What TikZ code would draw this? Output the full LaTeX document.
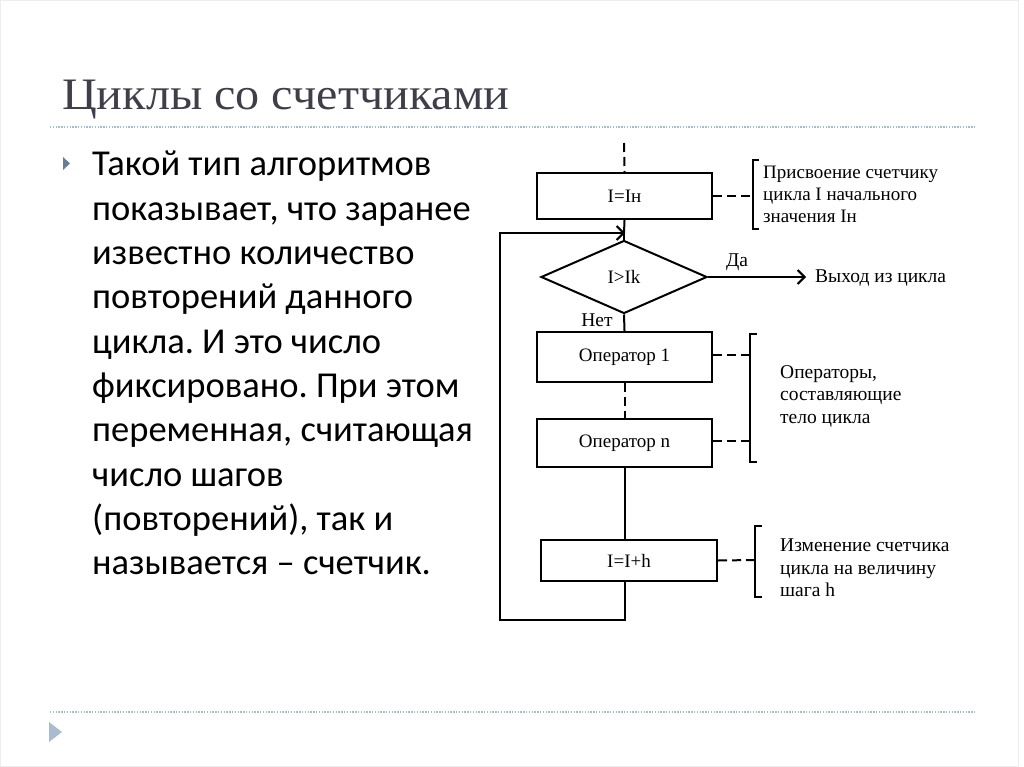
\documentclass[tikz,border=0pt]{standalone}
\usepackage{fontspec}
\setmainfont{Liberation Serif}
\newfontfamily\bodyfont{Carlito}
\newfontfamily\titlefont[FakeStretch=1.07]{Liberation Serif}
\usetikzlibrary{arrows.meta,shapes.geometric}
\definecolor{titlegray}{HTML}{3F3F4A}
\definecolor{dotblue}{HTML}{A9BCCF}
\definecolor{bulletblue}{HTML}{6A7C98}
\frenchspacing
\tikzset{
  box/.style={draw, line width=2pt, minimum width=175pt, minimum height=46pt, inner sep=0pt, font=\fontsize{19}{19}\selectfont},
  dia/.style={draw, line width=2pt, diamond, minimum width=166pt, minimum height=73pt, inner sep=0pt, aspect=2.27, font=\fontsize{19}{19}\selectfont},
  flow/.style={line width=2pt},
  dashln/.style={line width=2pt, dash pattern=on 9pt off 5pt},
  brk/.style={line width=2.2pt},
  note/.style={anchor=west, align=left, font=\fontsize{19.5}{22.5}\selectfont, inner sep=0pt},
  lbl/.style={font=\fontsize{19.5}{19}\selectfont, inner sep=0pt},
  dotline/.style={dotblue, line width=1.3pt, dash pattern=on 1.3pt off 1.5pt},
  chev/.style={-{Straight Barb[length=7pt,width=14pt,line width=2pt]}},
  bodyline/.style={anchor=base west, inner sep=0pt, font=\bodyfont\fontsize{36.5}{40}\selectfont}
}
\begin{document}
\begin{tikzpicture}[x=1pt,y=-1pt]
\useasboundingbox (0,0) rectangle (1024,767);
\fill[white] (0,0) rectangle (1024,767);
\draw[black!7, line width=1pt] (0.5,0.5) rectangle (1018,766);
% title
\node[anchor=base west, inner sep=0pt, text=titlegray, font=\titlefont\fontsize{45}{45}\selectfont] (title) at (62,110) {Циклы со счетчиками};
\draw[dotline] (50,127) -- (975,127);
\draw[dotline] (50,712) -- (975,712);
\fill[dotblue] (49,722) -- (62,732) -- (49,742) -- cycle;
% bullet
\fill[bulletblue] (63,157) -- (70,163.5) -- (63,170) -- cycle;
\foreach \t [count=\i] in {Такой тип алгоритмов,показывает{,} что заранее,известно количество,повторений данного,цикла. И это число,фиксировано. При этом,переменная{,} считающая,число шагов,(повторений){,} так и,называется – счетчик.}
  \node[bodyline] (body\i) at (92,{176+(\i-1)*44.33}) {\t};
% diagram
\coordinate (top) at (624,143);
\node[box] (b1) at (624.5,196) {I=Iн};
\node[dia] (d) at (624,277) {I>Ik};
\node[box, minimum height=50pt] (b2) at (624.5,357) {Оператор 1};
\node[box, minimum height=48pt] (b3) at (624.5,443) {Оператор n};
\node[box, minimum width=176pt, minimum height=41pt] (b4) at (629,560.5) {I=I+h};
\coordinate (j) at (624,233);
\coordinate (lb) at (500,620);
\coordinate (lt) at (500,233);
\coordinate (exit) at (806,277);
\draw[dashln] (top) -- (b1.north);
\draw[flow] (b1.south) -- (j);
\draw[flow] (j) -- (d.north);
\draw[flow] (d.south) -- (b2.north);
\draw[dashln] (b2.south) -- (b3.north);
\draw[flow] (b3.south) -- (b3.south |- b4.north);
\draw[flow] (b3.south |- b4.south) |- (lb) -- (lt) -- (j);
\draw[flow, chev] (lt) -- ([xshift=1pt]j);
\draw[flow, chev] (d.east) -- (exit);
\node[lbl, anchor=base] (da) at (737,266) {Да};
\node[lbl, anchor=base] (net) at (597,326) {Нет};
\node[lbl, anchor=west] (out) at (815,278) {Выход из цикла};
% brackets
\coordinate (k1) at (753,196);
\draw[dashln] (b1.east) -- (k1);
\draw[brk] (759,160) -- (753,160) -- (753,229) -- (759,229);
\node[note, font=\fontsize{19}{22}\selectfont] (n1) at (763,194) {Присвоение счетчику\\цикла I начального\\значения Iн};
\coordinate (k2a) at (750,355);
\coordinate (k2b) at (750,441);
\draw[dashln] (b2.east |- k2a) -- (k2a);
\draw[dashln] (b3.east |- k2b) -- (k2b);
\draw[brk] (757,334) -- (750,334) -- (750,462) -- (757,462);
\node[note] (n2) at (780,396) {Операторы,\\составляющие\\тело цикла};
\coordinate (k3) at (755,560);
\draw[dashln] (b4.east) -- (k3);
\draw[brk] (762,526) -- (755,526) -- (755,597) -- (762,597);
\node[note] (n3) at (780,568) {Изменение счетчика\\цикла на величину\\шага h};
\end{tikzpicture}
\end{document}
